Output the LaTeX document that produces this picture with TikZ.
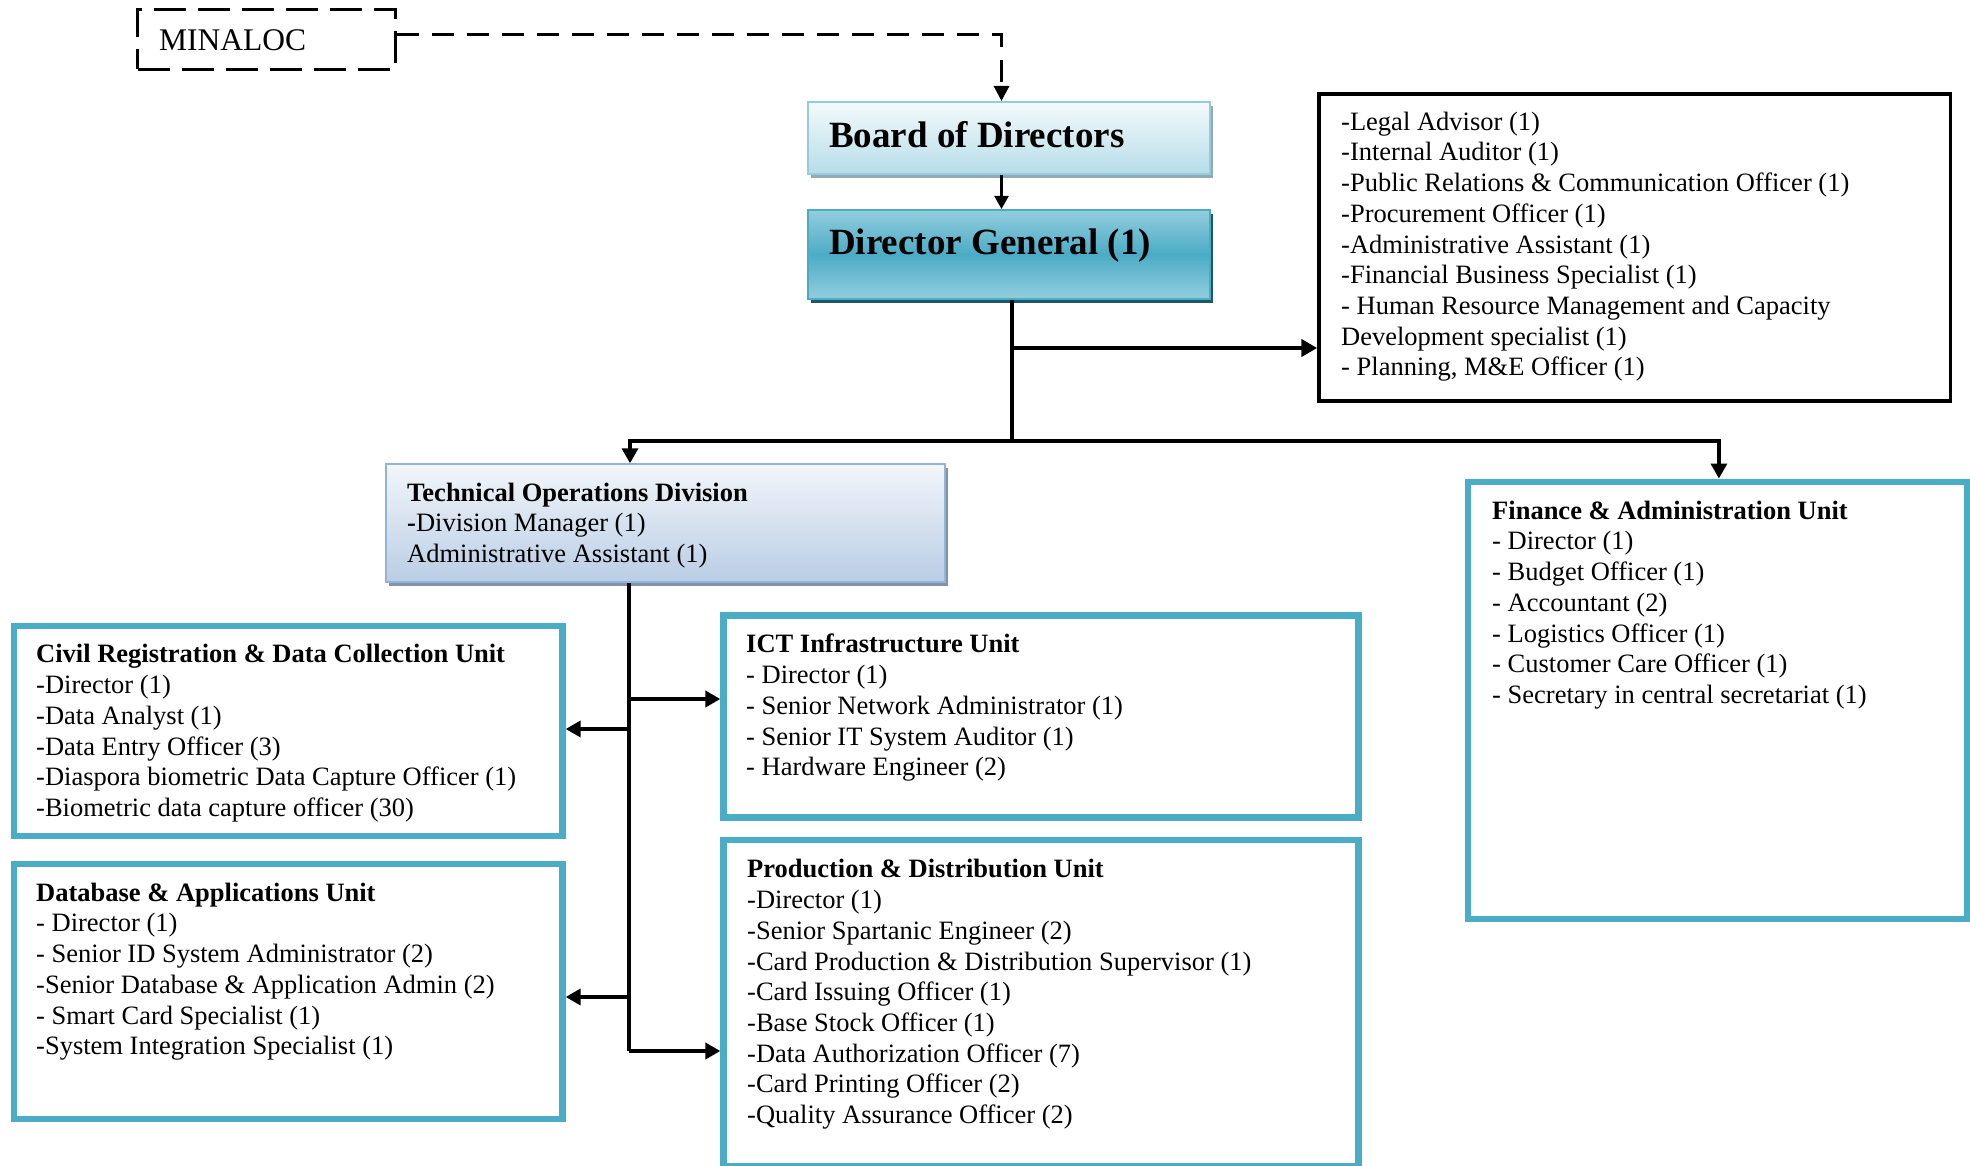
\documentclass[tikz,border=0pt]{standalone}
\usepackage{fontspec}
\setmainfont{Liberation Serif}
\usetikzlibrary{arrows.meta,shadows}
\definecolor{cy}{HTML}{4BACC6}
\definecolor{cylight}{HTML}{93CDDD}
\definecolor{bdtop}{HTML}{F4FAFC}
\definecolor{bdbot}{HTML}{B6DDE8}
\definecolor{bdshadow}{HTML}{95A9B4}
\definecolor{dgshadow}{HTML}{1F5767}
\definecolor{todtop}{HTML}{F3F6FA}
\definecolor{todbot}{HTML}{B9CDE5}
\definecolor{todborder}{HTML}{95B3D7}
\definecolor{todshadow}{HTML}{8193AB}
\newcommand{\st}{\rule{0pt}{20pt}}
\begin{document}
\begin{tikzpicture}[x=1pt,y=-1pt,
  unitbox/.style={draw=cy, line width=6.3pt, fill=white},
  txt/.style={inner sep=0pt, anchor=north west, align=left, font=\fontsize{26.5pt}{30.7pt}\selectfont},
  bigtxt/.style={inner sep=0pt, anchor=base west, font=\fontsize{37pt}{44pt}\selectfont\bfseries},
  conn/.style={line width=3.7pt, -{Triangle[length=15pt,width=16pt]}},
  plain/.style={line width=3.7pt},
  dashline/.style={line width=3pt, dash pattern=on 22pt off 13pt}
]
\useasboundingbox (0,0) rectangle (1970,1166);

% ---- boxes ----
\node[draw, line width=3pt, dash pattern=on 32pt off 12pt, minimum width=258pt, minimum height=60pt] (minaloc) at (266.5,39.3) {};
\node[anchor=base west, inner sep=0pt, font=\fontsize{31.5pt}{36pt}\selectfont] (minalocT) at (159,50.7) {MINALOC};

\node[draw=cylight, line width=2pt, top color=bdtop, bottom color=bdbot,
      drop shadow={shadow xshift=3pt, shadow yshift=-4pt, opacity=1, fill=bdshadow},
      minimum width=402pt, minimum height=72pt] (board) at (1009,138) {};
\node[bigtxt] (boardT) at (829,148) {Board of Directors};

\node[draw=cy, line width=2pt, top color=cylight, bottom color=cylight, middle color=cy,
      drop shadow={shadow xshift=3pt, shadow yshift=-4pt, opacity=1, fill=dgshadow},
      minimum width=402pt, minimum height=89pt] (dg) at (1009,254.5) {};
\node[bigtxt] (dgT) at (829,255) {Director General (1)};

\node[draw, line width=3.5pt, fill=white, minimum width=631.4pt, minimum height=306.7pt] (legal) at (1634.7,247.4) {};
\node[txt] (legalT) at (1341,110) {\st-Legal Advisor (1)\\-Internal Auditor (1)\\-Public Relations \& Communication Officer (1)\\-Procurement Officer (1)\\-Administrative Assistant (1)\\-Financial Business Specialist (1)\\- Human Resource Management and Capacity\\Development specialist (1)\\- Planning, M\&E Officer (1)};

\node[draw=todborder, line width=2pt, top color=todtop, bottom color=todbot,
      drop shadow={shadow xshift=3pt, shadow yshift=-4pt, opacity=1, fill=todshadow},
      minimum width=558.7pt, minimum height=118pt] (tod) at (665.6,523.3) {};
\node[txt] (todT) at (407,481) {\st\textbf{Technical Operations Division}\\\textbf{-}Division Manager (1)\\Administrative Assistant (1)};

\node[unitbox, minimum width=499.2pt, minimum height=437.6pt] (fin) at (1717.9,700.5) {};
\node[txt] (finT) at (1492,499) {\st\textbf{Finance \& Administration Unit}\\- Director (1)\\- Budget Officer (1)\\- Accountant (2)\\- Logistics Officer (1)\\- Customer Care Officer (1)\\- Secretary in central secretariat (1)};

\node[unitbox, minimum width=548.5pt, minimum height=209.7pt] (civil) at (288.25,731.15) {};
\node[txt] (civilT) at (36,642.7) {\st\textbf{Civil Registration \& Data Collection Unit}\\-Director (1)\\-Data Analyst (1)\\-Data Entry Officer (3)\\-Diaspora biometric Data Capture Officer (1)\\-Biometric data capture officer (30)};

\node[unitbox, minimum width=548.5pt, minimum height=255pt] (db) at (288.25,991.5) {};
\node[txt] (dbT) at (36,881) {\st\textbf{Database \& Applications Unit}\\- Director (1)\\- Senior ID System Administrator (2)\\-Senior Database \& Application Admin (2)\\- Smart Card Specialist (1)\\-System Integration Specialist (1)};

\node[unitbox, minimum width=635pt, minimum height=202pt] (ict) at (1041,716.5) {};
\node[txt] (ictT) at (746,632.7) {\st\textbf{ICT Infrastructure Unit}\\- Director (1)\\- Senior Network Administrator (1)\\- Senior IT System Auditor (1)\\- Hardware Engineer (2)};

\node[unitbox, minimum width=635pt, minimum height=326pt] (prod) at (1041,1003) {};
\node[txt] (prodT) at (747,857.7) {\st\textbf{Production \& Distribution Unit}\\-Director (1)\\-Senior Spartanic Engineer (2)\\-Card Production \& Distribution Supervisor (1)\\-Card Issuing Officer (1)\\-Base Stock Officer (1)\\-Data Authorization Officer (7)\\-Card Printing Officer (2)\\-Quality Assurance Officer (2)};

% ---- connectors ----
\draw[dashline, -{Triangle[length=15pt,width=15pt]}] ([yshift=5pt]minaloc.east) -| ([xshift=-7.5pt]board.north);
\draw[line width=2.2pt, -{Triangle[length=13pt,width=14pt]}] ([xshift=-7.5pt]board.south) -- ([xshift=-7.5pt]dg.north);

\coordinate (dgs) at ([xshift=3pt]dg.south);
\coordinate (j1) at (1012,348);
\coordinate (bus) at (1012,441);
\draw[plain] (dgs) -- (bus);
\draw[line width=4.2pt, -{Triangle[length=16pt,width=17pt]}] (j1) -- (j1 -| legal.west);
\draw[line width=3.4pt, -{Triangle[length=15pt,width=16pt]}] (bus) -| ([xshift=-35.6pt]tod.north);
\draw[line width=3.4pt, -{Triangle[length=15pt,width=16pt]}] (bus) -| ([xshift=1pt]fin.north);

\coordinate (tv) at ([xshift=-36.6pt]tod.south);
\coordinate (yict) at (0,699);
\coordinate (ycivil) at (0,729);
\coordinate (ydb) at (0,997);
\coordinate (yprod) at (0,1051);
\draw[plain] (tv) -- (tv |- yprod);
\draw[conn] (tv |- yict) -- (yict -| ict.west);
\draw[conn] (tv |- ycivil) -- (ycivil -| civil.east);
\draw[conn] (tv |- ydb) -- (ydb -| db.east);
\draw[conn] (tv |- yprod) -- (yprod -| prod.west);
\end{tikzpicture}
\end{document}
